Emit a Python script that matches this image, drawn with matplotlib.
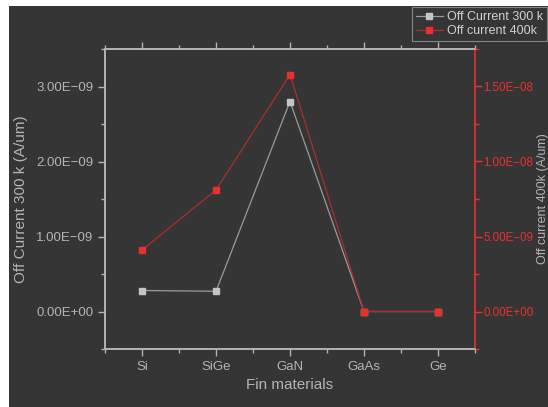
import matplotlib
matplotlib.use("Agg")
import matplotlib.pyplot as plt
from matplotlib.patches import Rectangle
from matplotlib.ticker import FuncFormatter, MultipleLocator

plt.rcParams['font.family'] = ['Liberation Sans', 'DejaVu Sans']

materials = ["Si", "SiGe", "GaN", "GaAs", "Ge"]
off_300k = [0.28e-9, 0.27e-9, 2.80e-9, 0.0, 0.0]
off_400k = [4.1e-9, 8.1e-9, 15.8e-9, 0.0, 0.0]

BG = "#353535"
GRAY = "#b4b4b4"
RED = "#e8302f"

fig = plt.figure(figsize=(5.48, 4.07), dpi=100)
fig.patch.set_facecolor("white")
fig.add_artist(Rectangle((9 / 548, 0), 1, (407 - 6) / 407, transform=fig.transFigure,
                         facecolor=BG, edgecolor="none", zorder=0))

ax = fig.add_axes([105 / 548, 1 - 349 / 407, 370 / 548, 300 / 407])
ax.set_facecolor(BG)
ax2 = ax.twinx()

x = list(range(len(materials)))
l1, = ax.plot(x, off_300k, color="#9a9a9a", lw=0.9, marker="s", ms=4,
              mfc="#c4c4c4", mec="#c4c4c4", label="Off Current 300 k")
l2, = ax2.plot(x, off_400k, color="#a83030", lw=0.9, marker="s", ms=4,
               mfc=RED, mec=RED, label="Off current 400k")

ax.set_xlim(-0.5, 4.5)
ax.set_ylim(-0.5e-9, 3.5e-9)
ax2.set_ylim(-2.5e-9, 17.5e-9)

def sci(v, pos):
    s = "%.2E" % v
    return s.replace("-", "\u2212")

ax.set_xticks(x)
ax.set_xticklabels(materials)
ax.xaxis.set_minor_locator(MultipleLocator(0.5))
ax.yaxis.set_major_locator(MultipleLocator(1e-9))
ax.yaxis.set_minor_locator(MultipleLocator(0.5e-9))
ax.yaxis.set_major_formatter(FuncFormatter(sci))
ax2.yaxis.set_major_locator(MultipleLocator(5e-9))
ax2.yaxis.set_minor_locator(MultipleLocator(2.5e-9))
ax2.yaxis.set_major_formatter(FuncFormatter(sci))
ax.yaxis.get_offset_text().set_visible(False)
ax2.yaxis.get_offset_text().set_visible(False)

ax.tick_params(axis="both", which="both", colors=GRAY, labelcolor=GRAY, labelsize=9.5,
               top=True, direction="out")
ax.tick_params(axis="x", which="major", length=5, width=1)
ax.tick_params(axis="x", which="minor", length=3, width=1)
ax.tick_params(axis="y", which="major", length=5, width=1)
ax.tick_params(axis="y", which="minor", length=3, width=1)
ax2.tick_params(axis="y", which="both", colors=RED, labelcolor=RED, labelsize=8.3)
ax2.tick_params(axis="y", which="major", length=5, width=1, pad=0.8)
ax2.tick_params(axis="y", which="minor", length=3, width=1)

for name in ["left", "top", "bottom"]:
    ax.spines[name].set_color(GRAY)
    ax2.spines[name].set_color(GRAY)
ax.spines["right"].set_visible(False)
ax2.spines["right"].set_color(RED)
for sp in list(ax.spines.values()) + list(ax2.spines.values()):
    sp.set_linewidth(1.2)

ax.set_xlabel("Fin materials", color=GRAY, fontsize=11, labelpad=4)
ax.set_ylabel("Off Current 300 k (A/um)", color=GRAY, fontsize=11, labelpad=6)
ax2.set_ylabel("Off current 400k (A/um)", color=GRAY, fontsize=9)
ax2.yaxis.set_label_coords((537 - 105) / 370, 0.5)

leg = fig.legend(handles=[l1, l2], loc="upper right", bbox_to_anchor=(1.0, 0.985),
                 fontsize=9, frameon=True, fancybox=False, borderpad=0.3,
                 handlelength=2.2, handletextpad=0.3, labelspacing=0.15, borderaxespad=0.1)
leg.get_frame().set_facecolor(BG)
leg.get_frame().set_edgecolor("#9a9a9a")
leg.get_frame().set_linewidth(0.8)
for t in leg.get_texts():
    t.set_color("#d0d0d0")

fig.savefig("out.png", dpi=100, facecolor=fig.get_facecolor())
